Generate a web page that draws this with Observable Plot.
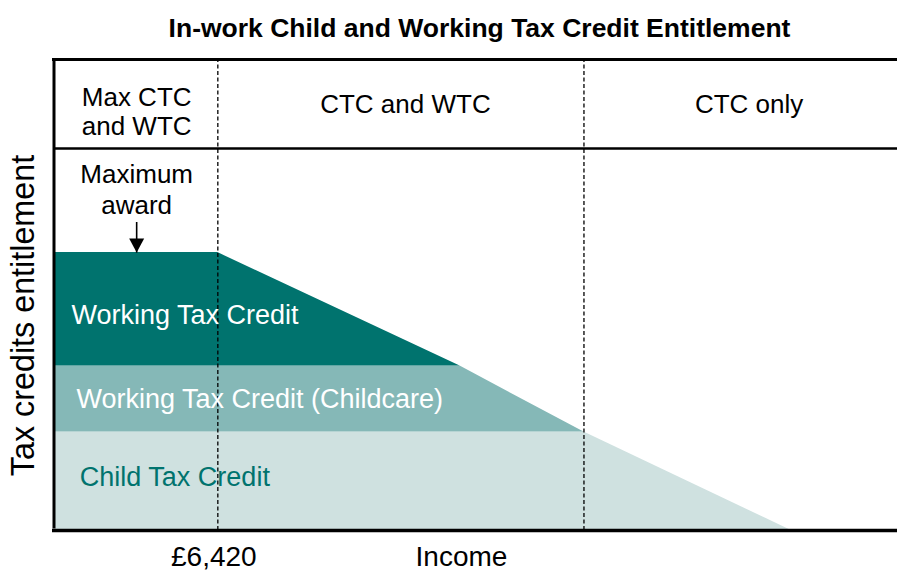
<!DOCTYPE html>
<html><head><meta charset="utf-8">
<script src="https://cdn.jsdelivr.net/npm/d3@7"></script>
<script src="https://cdn.jsdelivr.net/npm/@observablehq/plot@0.6"></script>
<style>body{margin:0;background:#fff}</style>
</head><body><div id="chart"></div>
<script>
// ---- data (income in £, entitlement in relative units) ----
const incomes = [0, 6420, 16000, 20900, 29100];
const childTaxCredit = [20.9, 20.9, 20.9, 20.9, 0];
const childcareCredit = [14.0, 14.0, 14.0, 0, 0];
const workingTaxCredit = [24.1, 24.1, 0, 0, 0];
const parts = ["Child Tax Credit", "Working Tax Credit (Childcare)", "Working Tax Credit"];
const partColors = ["#cfe1e0", "#85b8b7", "#00736e"];
const thresholds = [6420, 20900];
const thresholdLabels = ["£6,420"];
const xMax = 33300;
const yMax = 100;
const bandDivider = 81.1;
const bandLabels = [
  {text: "Max CTC\nand WTC", x: 3210, y: 89.1},
  {text: "CTC and WTC", x: 13840, y: 90.55},
  {text: "CTC only", x: 27430, y: 90.55}
];
const darkAreaLabels = [
  {text: "Working Tax Credit", x: 633, y: 45.7},
  {text: "Working Tax Credit (Childcare)", x: 830, y: 27.8}
];
const lightAreaLabels = [
  {text: "Child Tax Credit", x: 961, y: 11.2}
];
const maxAwardTotal = childTaxCredit[0] + childcareCredit[0] + workingTaxCredit[0];
const maxAward = [{text: "Maximum\naward", x: 3210, y: 72.6, from: 65.5, to: maxAwardTotal}];
const title = "In-work Child and Working Tax Credit Entitlement";
const xLabel = "Income";
const yLabel = "Tax credits entitlement";

const rows = incomes.flatMap((inc, i) => [
  {income: inc, part: parts[0], value: childTaxCredit[i]},
  {income: inc, part: parts[1], value: childcareCredit[i]},
  {income: inc, part: parts[2], value: workingTaxCredit[i]}
]);

function filledArrow(color, context) {
  const ns = "http://www.w3.org/2000/svg";
  const doc = (context && context.document) || document;
  const m = doc.createElementNS(ns, "marker");
  m.setAttribute("viewBox", "-15 -8 16 16");
  m.setAttribute("markerWidth", 16);
  m.setAttribute("markerHeight", 16);
  m.setAttribute("markerUnits", "userSpaceOnUse");
  m.setAttribute("refX", 0);
  m.setAttribute("refY", 0);
  m.setAttribute("orient", "auto");
  m.setAttribute("fill", "#000");
  m.setAttribute("stroke", "none");
  const p = doc.createElementNS(ns, "path");
  p.setAttribute("d", "M-14,-7.5L0,0L-14,7.5Z");
  m.appendChild(p);
  return m;
}

function build(marker) {
  return Plot.plot({
    width: 899, height: 572,
    marginLeft: 55, marginRight: 2, marginTop: 59, marginBottom: 42,
    x: {domain: [0, xMax], axis: null},
    y: {domain: [0, yMax], axis: null},
    color: {domain: parts, range: partColors},
    style: {fontFamily: "'Liberation Sans', Arial, sans-serif", background: "#fff", color: "#000"},
    marks: [
      Plot.areaY(rows, Plot.stackY({x: "income", y: "value", z: "part", fill: "part", order: parts})),
      Plot.ruleX(thresholds, {y1: 0, y2: yMax, stroke: "#000", strokeWidth: 1.3, strokeDasharray: "4,2.5"}),
      Plot.ruleY([bandDivider], {x1: 0, x2: xMax, stroke: "#000", strokeWidth: 2.3, insetLeft: -2}),
      Plot.ruleY([yMax], {x1: 0, x2: xMax, stroke: "#000", strokeWidth: 3, insetLeft: -3}),
      Plot.ruleY([0], {x1: 0, x2: xMax, stroke: "#000", strokeWidth: 3.5, insetLeft: -3}),
      Plot.ruleX([0], {y1: 0, y2: yMax, stroke: "#000", strokeWidth: 3, dx: -1.5, insetTop: -1.5, insetBottom: -1.5}),
      Plot.text(bandLabels, {x: "x", y: "y", text: "text", fontSize: 26, lineHeight: 1.12, fill: "#000"}),
      Plot.text(maxAward, {x: "x", y: "y", text: "text", fontSize: 26, lineHeight: 1.19, fill: "#000"}),
      Plot.link(maxAward, {x1: "x", x2: "x", y1: "from", y2: "to", stroke: "#000", strokeWidth: 1.6, markerEnd: marker}),
      Plot.text(darkAreaLabels, {x: "x", y: "y", text: "text", fontSize: 27, textAnchor: "start", fill: "#ffffff"}),
      Plot.text(lightAreaLabels, {x: "x", y: "y", text: "text", fontSize: 27, textAnchor: "start", fill: "#00736e"}),
      Plot.text([thresholds[0]], {x: d => d, text: (d, i) => thresholdLabels[i], frameAnchor: "bottom", lineAnchor: "middle", textAnchor: "middle", dy: 27, dx: -4, fontSize: 28, fill: "#000"}),
      Plot.text([xLabel], {frameAnchor: "bottom", lineAnchor: "middle", textAnchor: "middle", dy: 27, dx: -15, fontSize: 28, fill: "#000"}),
      Plot.text([yLabel], {frameAnchor: "left", lineAnchor: "middle", textAnchor: "middle", rotate: -90, dx: -32, dy: 20.5, fontSize: 32.3, fill: "#000"}),
      Plot.text([title], {frameAnchor: "top", lineAnchor: "middle", textAnchor: "middle", dy: -30.6, dx: 3, fontSize: 26.5, fontWeight: "bold", fill: "#000"})
    ]
  });
}

let chart;
try { chart = build(filledArrow); } catch (e) { chart = build("arrow"); }
document.getElementById("chart").append(chart);
</script>
</body></html>
